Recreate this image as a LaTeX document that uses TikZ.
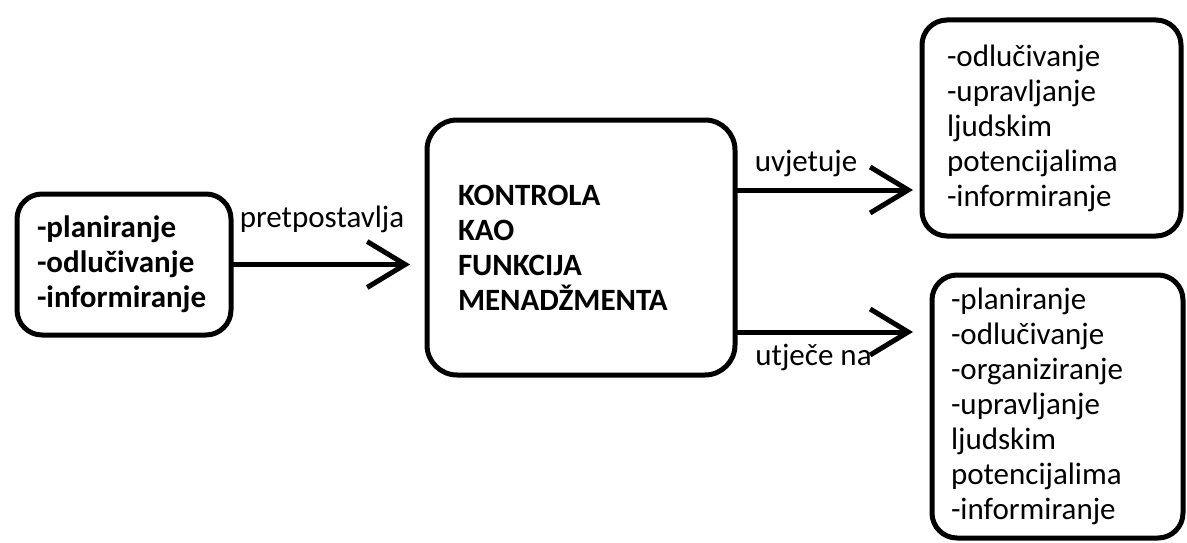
\documentclass[tikz,border=0pt]{standalone}
\usepackage{fontspec}
\setmainfont{Carlito}
\usetikzlibrary{arrows.meta}
\usetikzlibrary{positioning}

\begin{document}
\begin{tikzpicture}[-, node distance=190pt, line width=5pt, font=\fontsize{31}{35}\selectfont]
 				 \tikzstyle{box}=[draw=black, fill=white, rounded corners=25pt, align=left, inner ysep=0pt, outer sep=0pt]
 				 \tikzstyle{bold}=[font=\fontsize{31}{35}\selectfont\bfseries]
 				 \tikzstyle{lbl}=[inner sep=0pt, outer sep=0pt, anchor=center]
 				 \tikzstyle{arr}=[-{Straight Barb[length=38pt,width=46pt]}]
						\useasboundingbox (0,0) rectangle (1187pt,-543pt);

						\node[box, bold, inner xsep=20pt, text width=174pt, minimum height=141pt] (plan) at (124pt,-264.5pt) {-planiranje\\-odlučivanje\\-informiranje};
						\node[box, bold, rounded corners=30pt, inner xsep=31pt, text width=246pt, minimum height=255pt] (mid) [right=196pt of plan, yshift=17pt] {KONTROLA\\KAO\\FUNKCIJA\\MENADŽMENTA};
						\node[box, inner xsep=25pt, text width=209pt, minimum height=216pt] (up) [right=187pt of mid, yshift=119.5pt] {-odlučivanje\\-upravljanje\\ljudskim\\potencijalima\\-informiranje};
						\node[box, inner xsep=19pt, text width=213pt, minimum height=263pt] (low) [right=197pt of mid, yshift=-159pt] {-planiranje\\-odlučivanje\\-organiziranje\\-upravljanje\\ljudskim\\potencijalima\\-informiranje};

						\coordinate[above=57.5pt of mid.east] (mA);
						\coordinate[below=84.5pt of mid.east] (mB);

						\path
							(plan.east) edge[arr, shorten >=17pt] node[lbl, xshift=-7pt, yshift=45pt] {pretpostavlja} (plan.east -| mid.west)
							(mA) edge[arr, shorten >=9pt] node[lbl, xshift=-22.5pt, yshift=27pt] {uvjetuje} (mA -| up.west)
							(mB) edge[arr, shorten >=19pt] node[lbl, xshift=-20pt, yshift=-25pt] {utječe na} (mB -| low.west);

 				\end{tikzpicture}
\end{document}
